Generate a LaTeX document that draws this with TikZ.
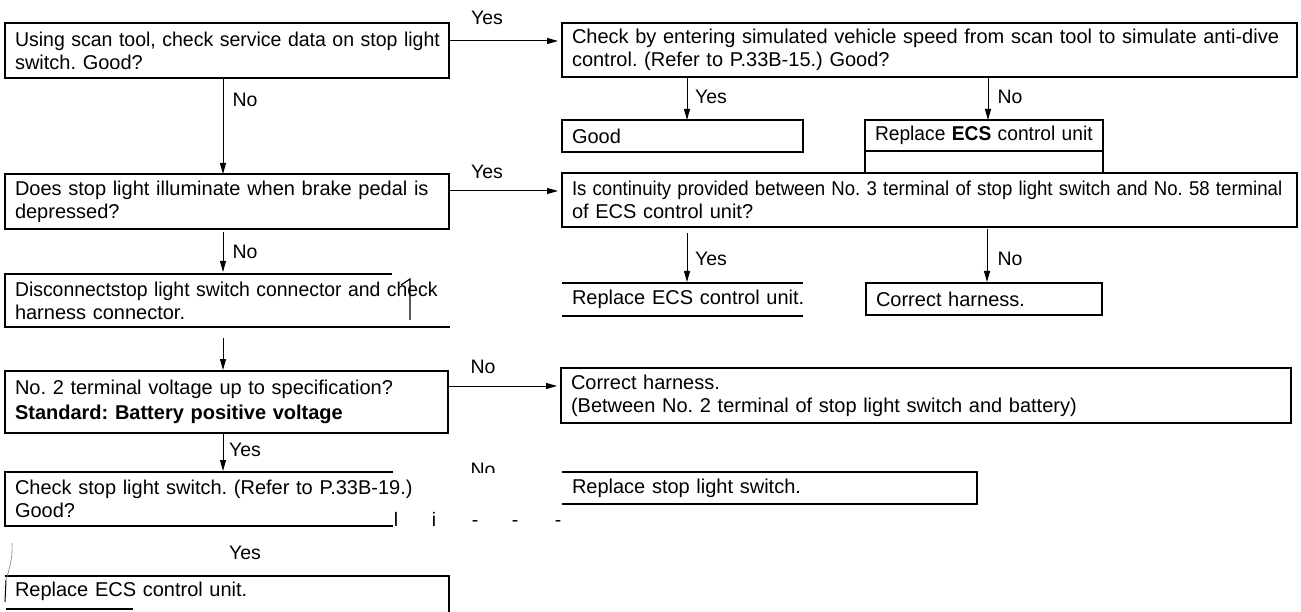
\documentclass[tikz,border=0pt]{standalone}
\usepackage{fontspec}
\usepackage{graphicx}
\setmainfont{Liberation Sans}
\usetikzlibrary{arrows.meta,calc}
\frenchspacing
\newcommand\sqz[2]{\scalebox{#1}[1]{#2}}
\begin{document}
\begin{tikzpicture}[x=1pt,y=-1pt,
  bline/.style={line width=1.6pt},
  bx/.style={rectangle, anchor=north west, inner xsep=10pt, inner ysep=0pt, outer sep=0pt, align=left, font=\fontsize{20}{23}\selectfont},
  drawn/.style={draw, line width=1.6pt},
  arr/.style={line width=1pt, -{Triangle[length=11pt,width=6pt]}},
  lbl/.style={inner sep=0pt, font=\fontsize{19.5}{22}\selectfont},
  scrib/.style={inner sep=0pt, anchor=base, font=\fontsize{19.5}{22}\selectfont},
]
\fill[white] (0,0) rectangle (1301,612);
\useasboundingbox (0,0) rectangle (1301,612);

% boxes
\node[bx,drawn,text width=424pt,minimum height=55pt] (b1) at (5,23) {\sqz{0.975}{Using scan tool, check service data on stop light}\\\mbox{switch. Good?}};
\node[bx,drawn,text width=715pt,minimum height=54pt] (b2) at (562,23) {\mbox{Check by entering simulated vehicle speed from scan tool to simulate anti-dive}\\\mbox{control. (Refer to P.33B-15.) Good?}};
\node[bx,drawn,text width=221pt,minimum height=32pt] (good) at (562,120) {Good};
\node[bx,drawn,text width=218pt,minimum height=31pt] (rep1) at (865,120) {\sqz{0.96}{Replace \textbf{ECS} control unit}};
\node[bx,drawn,text width=424pt,minimum height=55pt] (b3) at (5,174) {\mbox{Does stop light illuminate when brake pedal is}\\\mbox{depressed?}};
\node[bx,drawn,text width=715pt,minimum height=54pt] (b4) at (562,173) {\sqz{0.93}{Is continuity provided between No. 3 terminal of stop light switch and No. 58 terminal}\\\mbox{of ECS control unit?}};
\node[bx,text width=221pt,minimum height=33pt] (rep2) at (562,283) {\mbox{Replace ECS control unit.}};
\node[bx,drawn,text width=216pt,minimum height=32pt] (ch1) at (866,283) {\mbox{Correct harness.}};
\node[bx,text width=425pt,minimum height=53pt] (b5) at (5,274) {\sqz{0.97}{Disconnectstop light switch connector and check}\\\mbox{harness connector.}};
\node[bx,drawn,text width=423pt,minimum height=62pt] (b6) at (5,371) {\mbox{No. 2 terminal voltage up to specification?}\\[2pt]\mbox{\textbf{Standard: Battery positive voltage}}};
\node[bx,drawn,text width=710pt,minimum height=55pt] (b7) at (561,368) {\mbox{Correct harness.}\\\mbox{(Between No. 2 terminal of stop light switch and battery)}};
\node[bx,text width=368pt,minimum height=54pt] (b8) at (5,472) {\mbox{Check stop light switch. (Refer to P.33B-19.)}\\\mbox{Good?}};
\node[bx,text width=395pt,minimum height=32pt] (b9) at (562,472) {\mbox{Replace stop light switch.}};
\node[bx,text width=424pt,minimum height=30pt] (b10) at (5,576) {\mbox{Replace ECS control unit.}};

% partial borders
\draw[bline] (rep1.south west) -- (rep1.south west |- b4.north);
\draw[bline] (rep1.south east) -- (rep1.south east |- b4.north);
\draw[bline] (rep2.north west) -- (rep2.north east);
\draw[bline] (rep2.south west) -- (rep2.south east);
\draw[bline] ($(b5.north west)+(387,0)$) -- (b5.north west) -- (b5.south west) -- (b5.south east);
\draw[line width=1.2pt] (401,285) -- (410,279) -- (410,320);
\draw[bline] (b8.north east) -- (b8.north west) -- (b8.south west) -- (b8.south east);
\draw[bline] (b9.north west) -- (b9.north east) -- (b9.south east) -- (b9.south west);
\draw[bline] (b10.north west) -- (b10.north east) -- ++(0,40);
\draw[line width=0.6pt, gray] (12,543) .. controls (13,558) and (9,570) .. (6,580);
\draw[line width=1pt] (6,580) -- (5,602);
\draw[bline] (6,609) -- (133,609);

% connectors
\draw[arr] ($(b1.north east)+(0,18)$) -- ($(b2.north west)+(-4,18)$);
\draw[arr] ($(b3.north east)+(0,17)$) -- ($(b4.north west)+(-4,18)$);
\draw[arr] ($(b6.north east)+(0,15)$) -- ($(b7.north west)+(-4,18)$);
\draw[arr] ($(b1.south west)+(218,0)$) -- ($(b3.north west)+(218,0)$);
\draw[arr] ($(b3.south west)+(218,3)$) -- ($(b5.north west)+(218,-2)$);
\draw[arr] ($(b5.south west)+(218,11)$) -- ($(b6.north west)+(218,-1)$);
\draw[arr] ($(b6.south west)+(218,0)$) -- ($(b8.north west)+(218,-1)$);
\draw[arr] ($(b2.south west)+(125,0)$) -- ($(good.north west)+(125,0)$);
\draw[arr] ($(b2.south west)+(426,0)$) -- ($(rep1.north west)+(123,0)$);
\draw[arr] ($(b4.south west)+(125,6)$) -- ($(rep2.north west)+(125,-1)$);
\draw[arr] ($(b4.south west)+(425,2)$) -- ($(ch1.north west)+(121,-1)$);

% labels
\node[lbl] (l1) at (487,18) {Yes};
\node[lbl] (l2) at (487,172) {Yes};
\node[lbl] (l3) at (245,100) {No};
\node[lbl] (l4) at (245,252) {No};
\node[lbl] (l5) at (483,367) {No};
\node[lbl] (l6) at (245,450) {Yes};
\node[lbl] (l7) at (711,97) {Yes};
\node[lbl] (l8) at (1010,97) {No};
\node[lbl] (l9) at (711,259) {Yes};
\node[lbl] (l10) at (1010,259) {No};
\node[lbl] (l11) at (245,553) {Yes};
\begin{scope}
\clip (455,455) rectangle (515,472);
\node[lbl] (l12) at (483,470) {No};
\end{scope}
\node[scrib] (m1) at (396,526) {l};
\node[scrib] (m2) at (434,526) {i};
\node[scrib] (m3) at (475,526) {-};
\node[scrib] (m4) at (515,526) {-};
\node[scrib] (m5) at (558,526) {-};
\end{tikzpicture}
\end{document}
